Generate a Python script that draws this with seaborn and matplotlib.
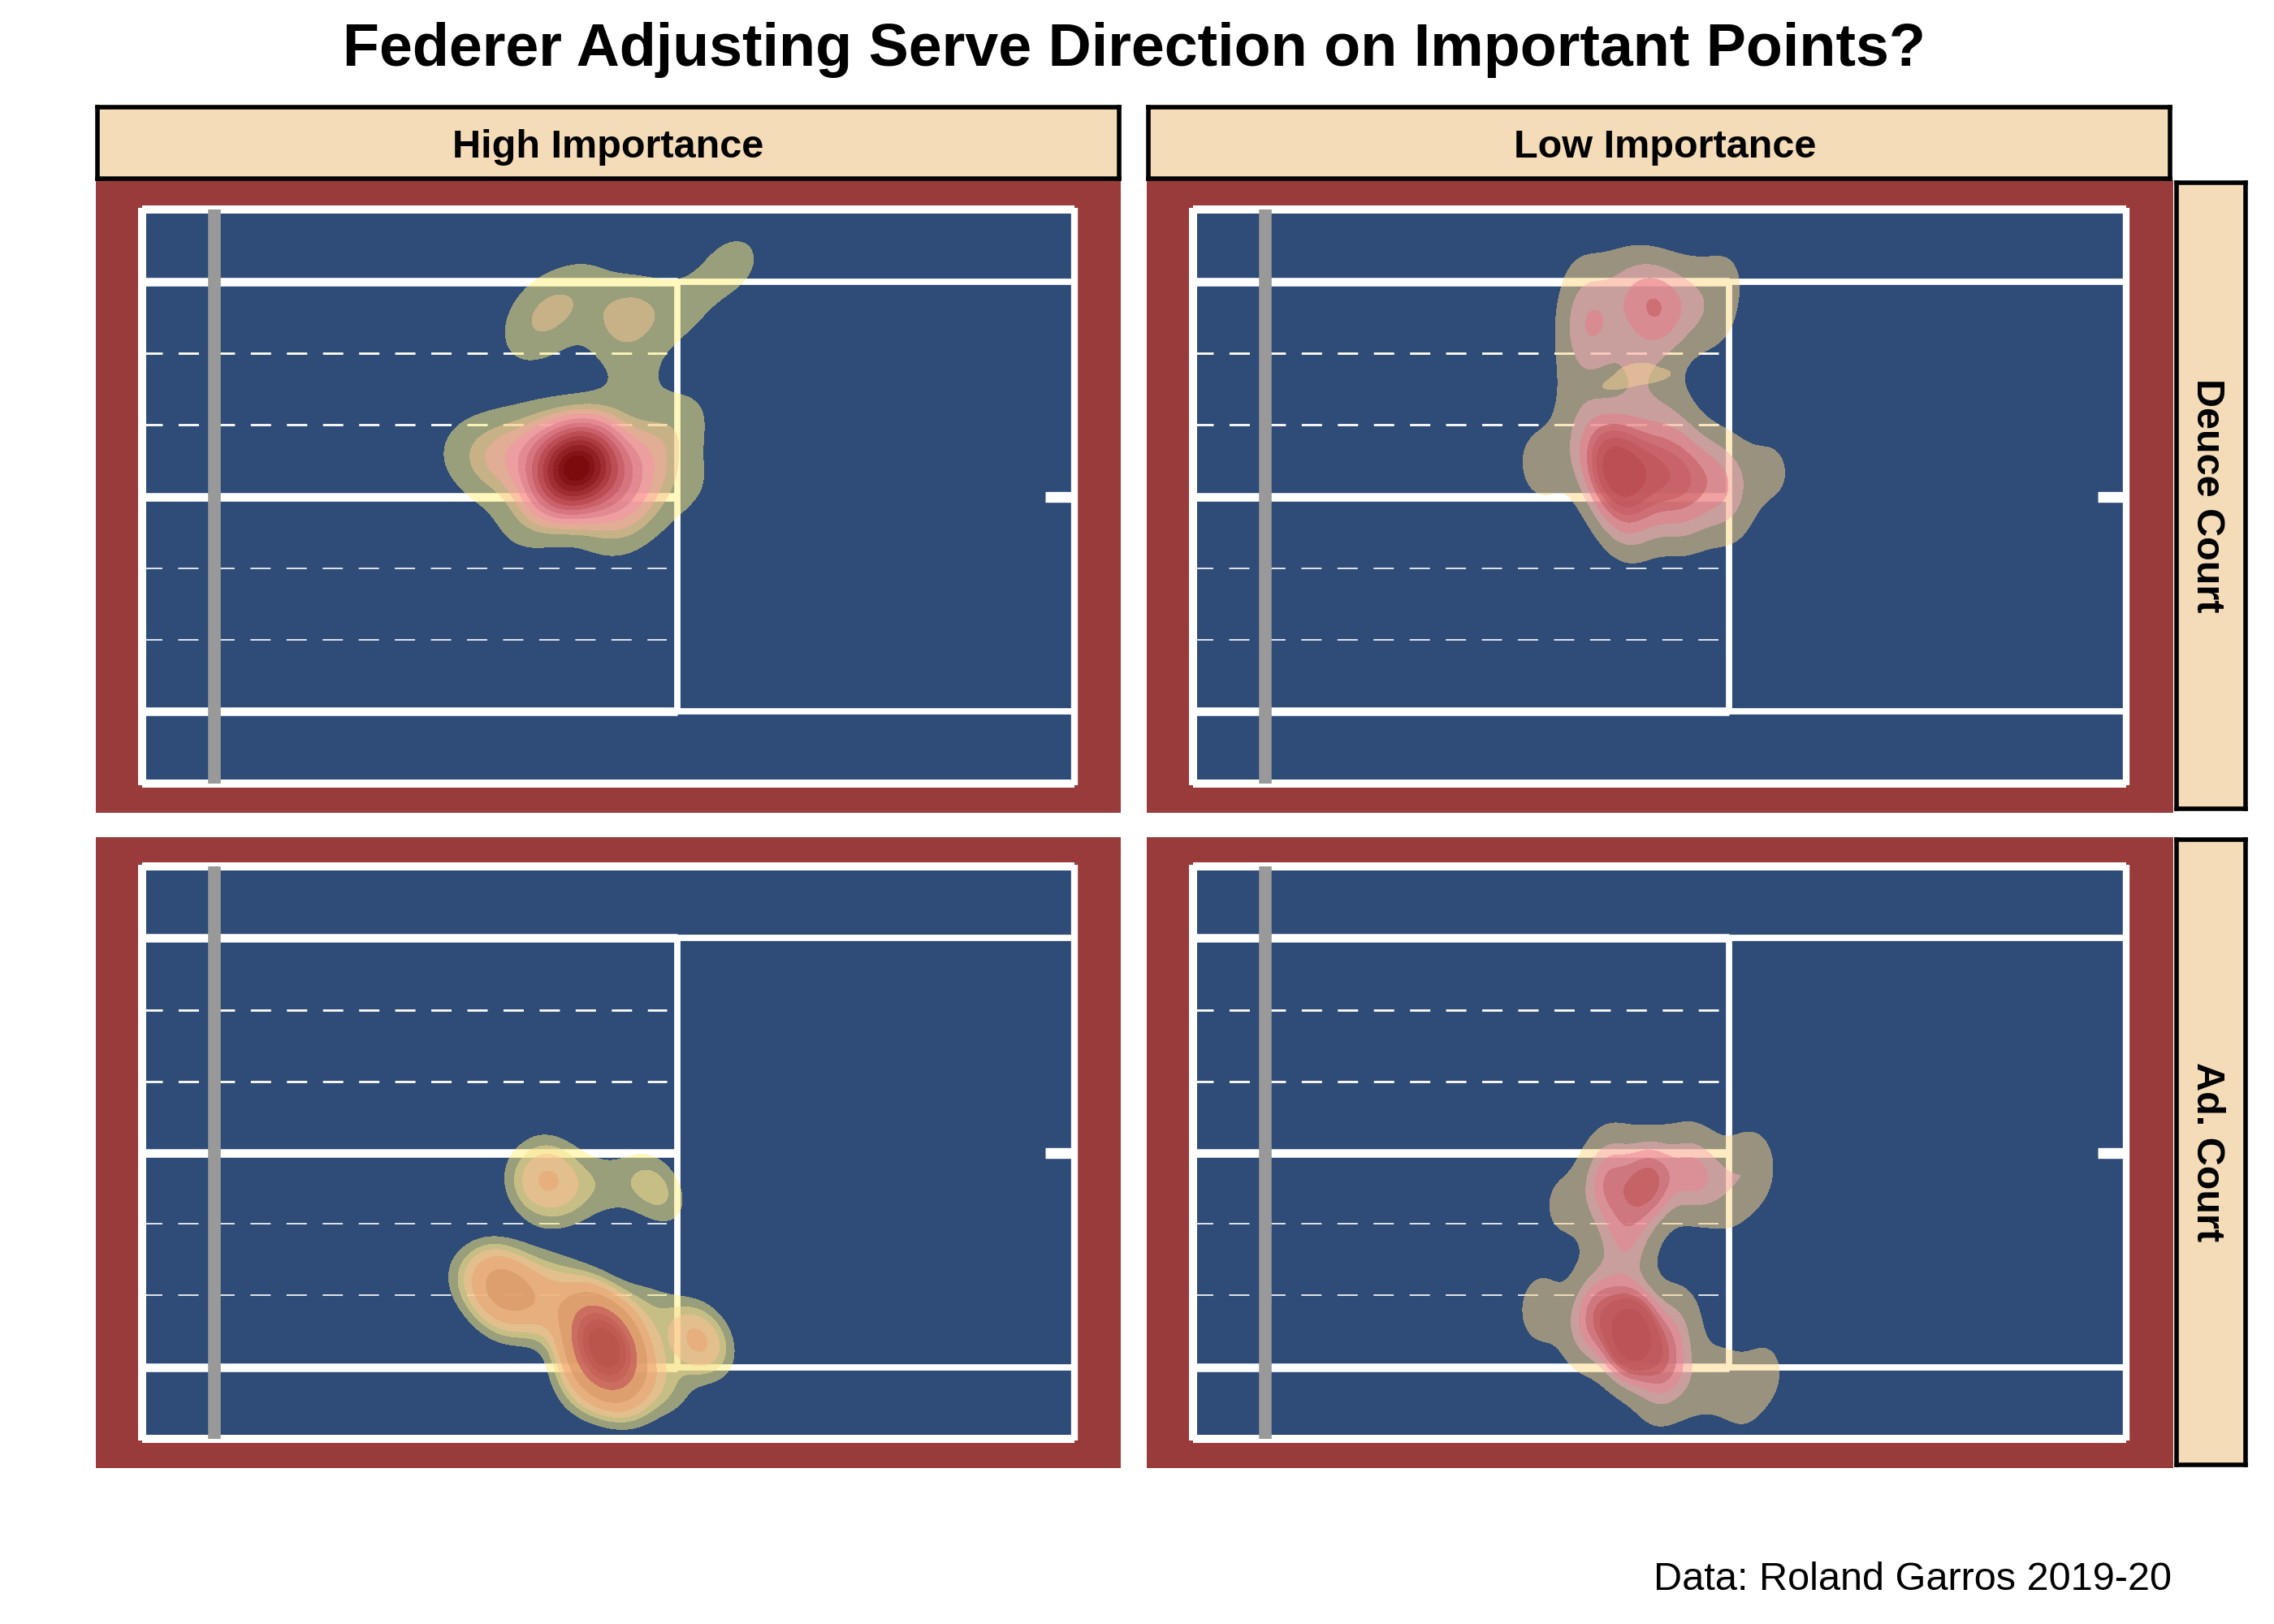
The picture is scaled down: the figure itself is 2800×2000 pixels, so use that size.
# Federer serve direction on important points, Roland Garros 2019-20
import matplotlib
matplotlib.use("Agg")
import matplotlib.pyplot as plt
from matplotlib.colors import ListedColormap, to_rgb
from matplotlib.patches import Rectangle
import numpy as np
import seaborn as sns

# court geometry in metres, net at x = 0
behind_net = -1.0
baseline = 11.885
service_line = 6.4
doubles_side = 5.485
singles_side = 4.115
dash_rows = [2.74, 1.37, -1.37, -2.74]
dash_widths = [1.0, 1.0, 0.6, 0.6]

# estimated serve bounce spots: x, y, weight
high_deuce_x = [5.0, 5.5, 4.5, 3.9, 6.0, 4.4, 5.6, 5.9, 3.4, 6.5, 6.6, 5.8, 4.0,
                4.6, 5.7, 4.3, 5.1, 6.4, 7.2, 6.8, 10.05]
high_deuce_y = [0.55, 0.2, 0.9, 0.8, 0.8, -0.4, -0.5, -0.1, 1.0, 1.5, 0.2, 2.2, 0.1,
                3.5, 3.4, 3.0, 4.0, 3.5, 4.5, 4.0, -0.15]
high_deuce_w = [30, 5, 4, 3, 3, 1.6, 1.6, 1.5, 1, 1.2, 1, 1.2, 0.5,
                2.4, 3.2, 0.8, 1.2, 1.2, 1.4, 0.5, 0.6]

low_deuce_x = [5.4, 4.5, 5.0, 5.9, 6.4, 6.3, 4.4, 4.3, 5.1, 4.3, 5.6,
               4.8, 5.3, 5.8, 6.3, 5.0, 5.7, 4.4, 5.6, 7.0, 6.4, 3.8]
low_deuce_y = [3.6, 3.3, 3.9, 3.7, 4.3, 3.3, 4.2, 2.7, 2.3, 1.9, 2.0,
               0.6, 0.5, 0.4, 0.3, -0.3, -0.3, 1.1, 1.2, 0.5, -0.5, 0.6]
low_deuce_w = [7, 5, 3, 3, 1.5, 1, 1.2, 1.2, 3, 1.2, 0.8,
               14, 8, 6, 5, 5, 3, 2, 2, 2, 1, 2.5]

# separate low spot between the two clusters
low_deuce_mid_x = [4.85, 5.1, 5.4]
low_deuce_mid_y = [2.15, 2.45, 2.3]

high_ad_x = [5.4, 5.3, 4.0, 4.5, 3.5, 3.9, 4.7, 5.2, 6.0, 6.7, 6.2, 5.6, 5.0,
             4.7, 4.4, 4.9, 6.0, 6.2, 5.4, 7.3]
high_ad_y = [-3.7, -4.2, -2.55, -2.9, -2.5, -3.1, -2.5, -3.0, -3.0, -3.6, -4.4, -4.5, -4.5,
             -0.3, -0.7, -0.9, -0.5, -0.9, -0.6, -0.15]
high_ad_w = [20, 3, 5.5, 2.5, 1, 1, 1, 3, 1.2, 3.5, 1.5, 2.5, 1.2,
             2, 2, 0.8, 1.2, 1, 1.1, 0.45]

low_ad_x = [5.3, 4.7, 5.9, 4.8, 5.8, 5.0, 6.7, 6.2, 6.4, 4.1, 5.0, 4.6,
            5.05, 4.6, 5.5, 4.4, 3.8, 5.7, 6.3, 6.9, 6.6, 5.4, 5.9]
low_ad_y = [-0.55, -0.6, -0.5, -0.1, -0.1, -1.2, -0.3, -0.5, -1.0, -1.0, -1.9, -1.6,
            -3.5, -3.0, -4.0, -3.5, -3.0, -3.2, -4.3, -4.2, -4.9, -4.7, -4.5]
low_ad_w = [7, 4, 3, 1.5, 1.5, 2.5, 2.5, 1.5, 1, 1.5, 2.5, 0.8,
            15, 5, 5, 2, 2, 2, 1.5, 1.5, 1, 1.2, 1.2]

# iso-proportion levels of each panel
high_deuce_levels = [0.10, 0.28, 0.36, 0.42, 0.48, 0.54, 0.60, 0.66, 0.72, 0.78, 0.84, 0.90, 0.95]
low_deuce_levels = [0.10, 0.30, 0.52, 0.68, 0.76, 0.84, 0.92]
high_ad_levels = [0.10, 0.19, 0.27, 0.38, 0.52, 0.68, 0.76, 0.83, 0.90]
low_ad_levels = [0.10, 0.34, 0.48, 0.62, 0.74, 0.82, 0.90]

# colours of the bands as they look on the blue court
high_deuce_bands = ["#9AA07A", "#C8B388", "#E2AE94", "#EE9F9E", "#E48A92", "#D87680", "#CB626B",
                    "#BD4E56", "#AF3E44", "#A02E32", "#922024", "#851518", "#7C0C0E"]
low_deuce_bands = ["#99937F", "#C9A09C", "#D98C92", "#CF7076", "#C9646A", "#C25A60", "#BC5055"]
high_ad_bands = ["#9AA07A", "#C7BF85", "#E3C08C", "#E8B07E", "#DFA070", "#CC6F60", "#C6645A", "#C05C52", "#BA564C"]
low_ad_bands = ["#99937F", "#C9A09C", "#DC9098", "#D07880", "#C66468", "#C05C60", "#BC5458"]

COURT = "#2F4B77"


def draw_court(ax):
    ax.add_patch(Rectangle((behind_net, -doubles_side), baseline - behind_net, 2 * doubles_side,
                           facecolor=COURT, edgecolor="none", zorder=1))
    white = dict(color="white", solid_capstyle="butt", zorder=2)
    # outer box
    ax.plot([behind_net, baseline], [doubles_side, doubles_side], lw=3.6, **white)
    ax.plot([behind_net, baseline], [-doubles_side, -doubles_side], lw=3.6, **white)
    ax.plot([behind_net, behind_net], [-doubles_side - 0.04, doubles_side + 0.04], lw=3.6, **white)
    ax.plot([baseline, baseline], [-doubles_side - 0.04, doubles_side + 0.04], lw=3.0, **white)
    # singles lines, thinner past the service line
    for y in [singles_side, -singles_side]:
        ax.plot([behind_net, service_line], [y, y], lw=3.8, **white)
        ax.plot([service_line, baseline], [y, y], lw=2.8, **white)
    ax.plot([behind_net, service_line], [0, 0], lw=3.8, **white)
    ax.plot([service_line, service_line], [-singles_side, singles_side], lw=2.8, **white)
    ax.plot([baseline - 0.4, baseline], [0, 0], lw=4.8, **white)
    for y, w in zip(dash_rows, dash_widths):
        ax.plot([behind_net, 6.25], [y, y], color="white", lw=w, dashes=(9 / w, 7 / w), zorder=2)


def draw_density(ax, x, y, w, levels, bands, bw):
    # nested layers, each one lays a translucent colour over the one before
    under = np.array(to_rgb(COURT))
    for i, (q, seen) in enumerate(zip(levels, bands)):
        target = np.array(to_rgb(seen))
        a = 0.5
        for c, u in zip(target, under):
            if c > u:
                a = max(a, (c - u) / (1 - u))
            elif c < u:
                a = max(a, (u - c) / u)
        src = np.clip((target - (1 - a) * under) / a, 0, 1)
        sns.kdeplot(x=x, y=y, weights=w, fill=True, levels=[q, 1.0], cmap=ListedColormap([src]),
                    alpha=a, bw_method=bw, gridsize=250, cut=6, ax=ax, zorder=3 + i * 0.01)
        under = target


panels = [
    (high_deuce_x, high_deuce_y, high_deuce_w, high_deuce_levels, high_deuce_bands, 0.38, (118, 222, 1380, 1001)),
    (low_deuce_x, low_deuce_y, low_deuce_w, low_deuce_levels, low_deuce_bands, 0.40, (1412, 222, 2676, 1001)),
    (high_ad_x, high_ad_y, high_ad_w, high_ad_levels, high_ad_bands, 0.38, (118, 1031, 1380, 1808)),
    (low_ad_x, low_ad_y, low_ad_w, low_ad_levels, low_ad_bands, 0.34, (1412, 1031, 2676, 1808)),
]

sns.set_theme(style="white")
plt.rcParams["font.family"] = ["Liberation Sans", "DejaVu Sans"]

W, H = 2800, 2000
fig = plt.figure(figsize=(14, 10), dpi=200, facecolor="white")


def px_axes(x0, y0, x1, y1):
    return fig.add_axes([x0 / W, 1 - y1 / H, (x1 - x0) / W, (y1 - y0) / H])


axes = []
for x, y, w, levels, bands, bw, box in panels:
    ax = px_axes(*box)
    axes.append(ax)
    ax.set_facecolor("#9A3B3B")
    draw_court(ax)
    draw_density(ax, x, y, w, levels, bands, bw)
    ax.plot([0, 0], [-doubles_side, doubles_side], color="#999999", lw=5.6,
            solid_capstyle="butt", zorder=4)

sns.kdeplot(x=low_deuce_mid_x, y=low_deuce_mid_y, fill=True, levels=[0.45, 1.0],
            cmap=ListedColormap(["#F9D395"]), alpha=0.5, bw_method=0.9, gridsize=200,
            ax=axes[1], zorder=3.5)

for ax in axes:
    ax.set_xlim(-1.64, 12.53)
    ax.set_ylim(-6.05, 6.05)
    ax.set_xticks([])
    ax.set_yticks([])
    ax.set_xlabel("")
    ax.set_ylabel("")
    sns.despine(ax=ax, left=True, bottom=True)


def strip(box, label, rotation=0, tx=0.5, ty=0.5):
    ax = px_axes(*box)
    ax.set_facecolor("#F4DCB8")
    ax.set_xticks([])
    ax.set_yticks([])
    for s in ax.spines.values():
        s.set_visible(True)
        s.set_color("black")
        s.set_linewidth(2.0)
    ax.text(tx, ty, label, transform=ax.transAxes, ha="center", va="center",
            fontsize=17.5, fontweight="bold", color="black", rotation=rotation)


strip((120, 132, 1378, 220), "High Importance", ty=0.44)
strip((1414, 132, 2672, 220), "Low Importance", tx=0.506, ty=0.44)
strip((2680, 225, 2765, 996), "Deuce Court", rotation=-90, tx=0.44)
strip((2680, 1034, 2765, 1804), "Ad. Court", rotation=-90, tx=0.44)

fig.text(1396 / W, 1 - 61 / H, "Federer Adjusting Serve Direction on Important Points?",
         ha="center", va="center", fontsize=26.5, fontweight="bold", color="black")
fig.text(2674 / W, 1 - 1945 / H, "Data: Roland Garros 2019-20", ha="right", va="center",
         fontsize=17.5, color="black")

fig.savefig("out.png", dpi=200)
